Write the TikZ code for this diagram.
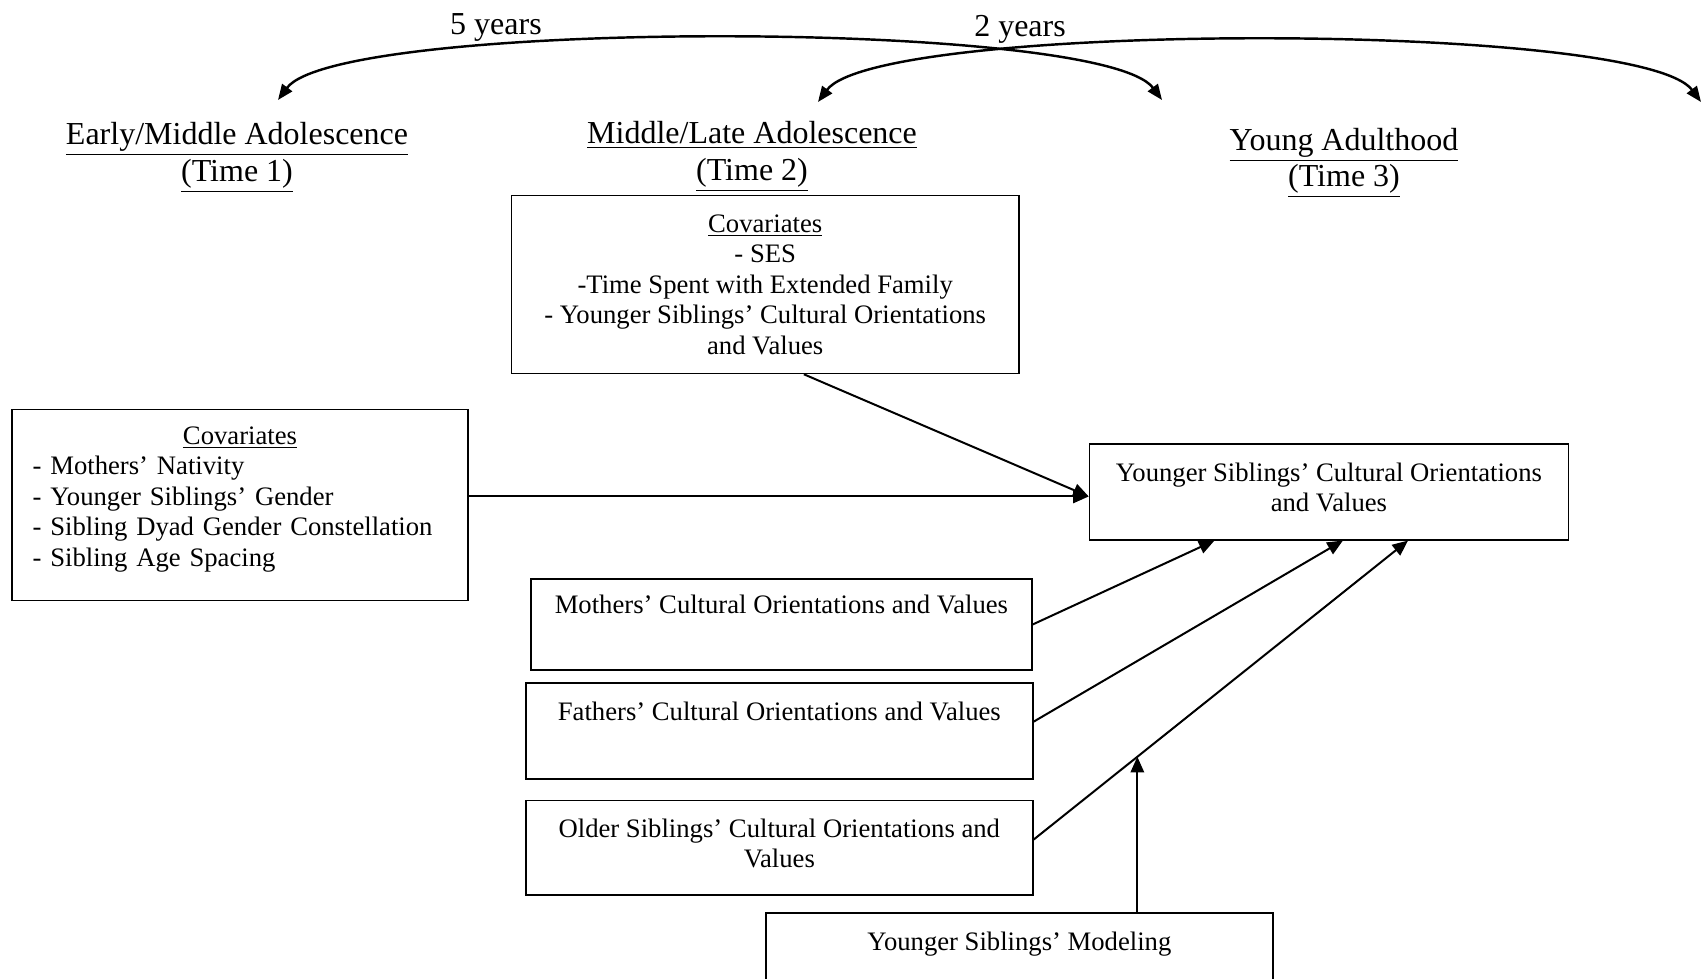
\documentclass[tikz,border=0pt]{standalone}
\usepackage{fontspec}
\setmainfont{Liberation Serif}
\usetikzlibrary{arrows.meta}
\setlength{\parindent}{0pt}

\begin{document}
\begin{tikzpicture}[x = 0.45pt, y = -0.45pt,
	box/.style = {draw, line width = 0.7pt, inner sep = 0pt, align = center, font = \fontsize{12}{13.7}\selectfont},
	head/.style = {align = center, font = \fontsize{14.4}{16.6}\selectfont},
	arr/.style = {line width = 0.9pt, -{Triangle[length = 7pt, width = 6pt]}},
	yearsarc/.style = {line width = 1.1pt, {Triangle[length = 7pt, width = 5.5pt]}-{Triangle[length = 7pt, width = 5.5pt]}}]%时间
	\useasboundingbox (0,0) rectangle (1703,979);
	\clip (0,0) rectangle (1703,979);
	\node[head] (t1) at (237,157.5) {\underline{Early/Middle Adolescence}\\\underline{(Time 1)}};
	\node[head] (t2) at (752,156.5) {\underline{Middle/Late Adolescence}\\\underline{(Time 2)}};
	\node[head] (t3) at (1344,163) {\underline{Young Adulthood}\\\underline{(Time 3)}};
	\node[head] (y5) at (496,27.5) {5 years};
	\node[head] (y2) at (1020,29.5) {2 years};
	\coordinate (a1) at (278,100);
	\coordinate (b1) at (1162,100);
	\coordinate (a2) at (818,102);
	\coordinate (b2) at (1701,102);
	\draw[yearsarc] (a1) .. controls +(60,-81) and +(-60,-81) .. (b1);
	\draw[yearsarc] (a2) .. controls +(60,-81) and +(-60,-81) .. (b2);
	\node[box, minimum width = 228.3pt, minimum height = 80.1pt] (cov2) at (765.2,284.5)
	{\underline{Covariates}\\- SES\\-Time Spent with Extended Family\\- Younger Siblings’ Cultural Orientations\\and Values};
	\node[box, minimum width = 205.2pt, minimum height = 86pt, text width = 186.7pt, align = left] (cov1) at (240,505)
	{\centering\underline{Covariates}\par\raggedright - Mothers’ Nativity\\- Younger Siblings’ Gender\\- Sibling Dyad Gender Constellation\\- Sibling Age Spacing\\[-10pt]\strut};
	\node[box, minimum width = 215.5pt, minimum height = 43pt] (Y) at (1328.9,492) {Younger Siblings’ Cultural Orientations\\and Values\strut};
	\node[box, minimum width = 225.4pt, minimum height = 41pt] (mom) at (781.4,624.5) {Mothers’ Cultural Orientations and Values\\ \strut};
	\node[box, minimum width = 228.2pt, minimum height = 43pt] (dad) at (779.3,731) {Fathers’ Cultural Orientations and Values\\ \strut};
	\node[box, minimum width = 228.2pt, minimum height = 42.5pt] (old) at (779.3,847.8) {Older Siblings’ Cultural Orientations and\\Values\strut};
	\node[box, minimum width = 228.3pt, minimum height = 43pt] (model) at (1019.4,961) {Younger Siblings’ Modeling\\ \strut};
	\coordinate (yin) at ([yshift = -2pt]Y.west);
	\draw[arr] (cov1.east |- yin) -- (yin);
	\draw[arr] ([xshift = 17.4pt]cov2.south) -- (yin);
	\draw[arr] (mom.east) -- ([xshift = -51.5pt]Y.south);
	\draw[arr] ([yshift = 4.2pt]dad.east) -- ([xshift = 6.3pt]Y.south);
	\draw[arr] ([yshift = 3.7pt]old.east) -- coordinate[pos = 0.277] (jn) ([xshift = 35.6pt]Y.south);
	\draw[arr] (model.north -| jn) -- (jn);
\end{tikzpicture}
\end{document}
